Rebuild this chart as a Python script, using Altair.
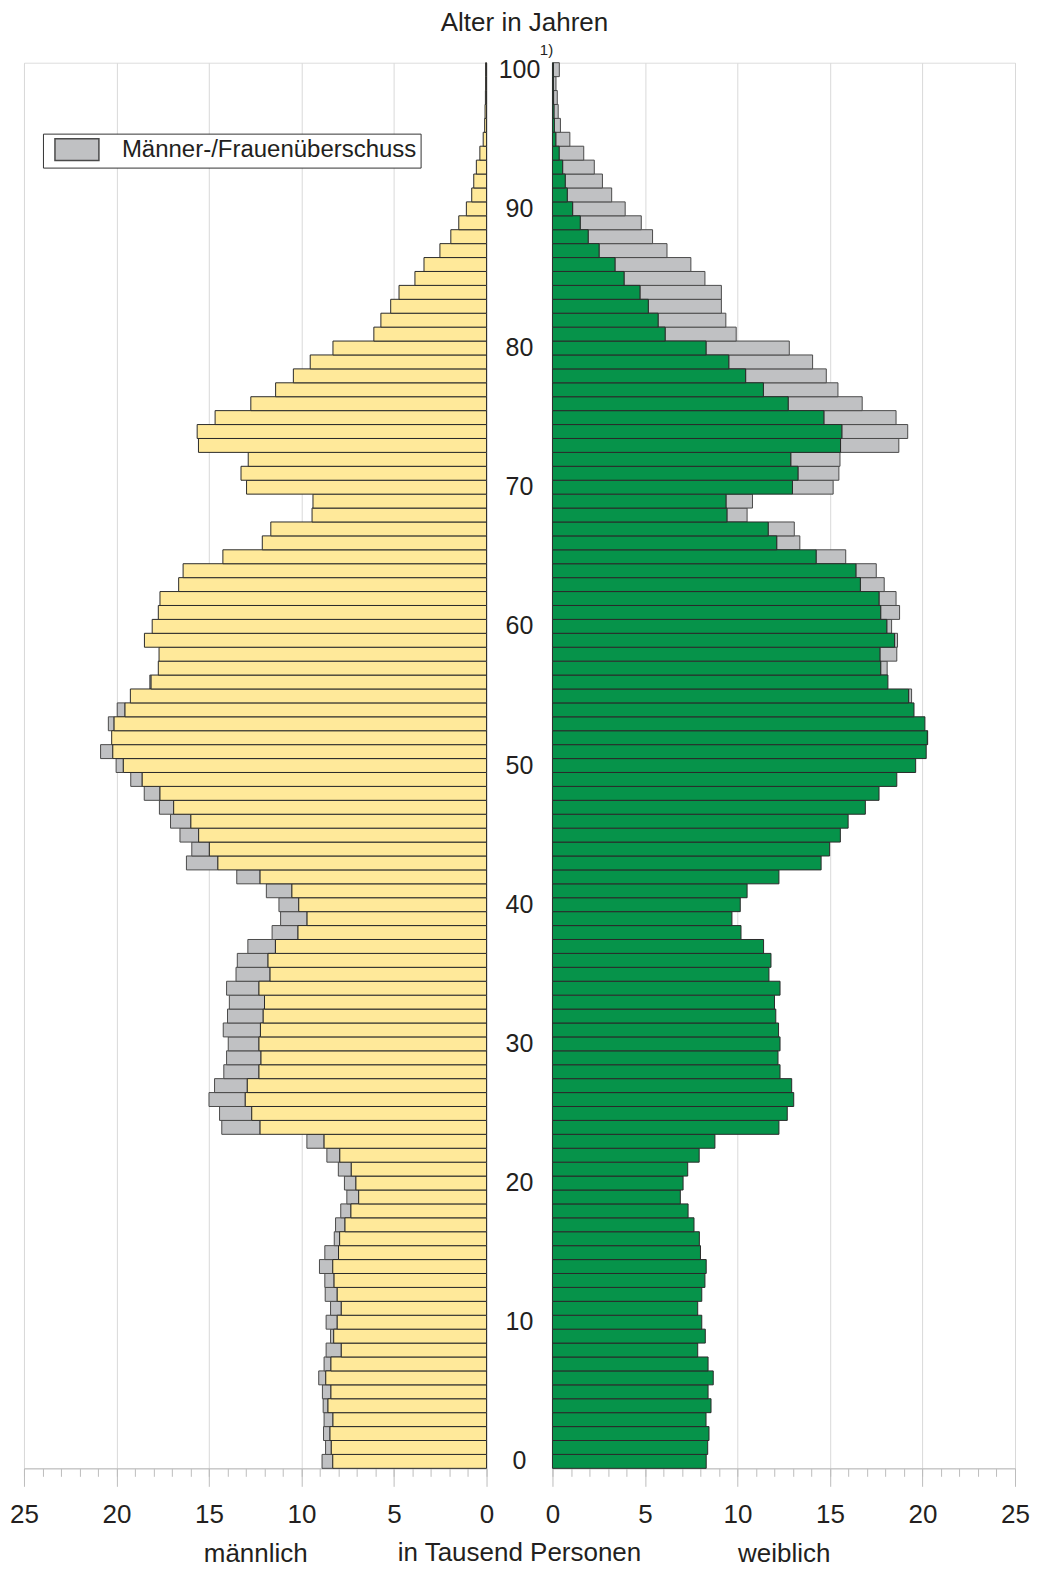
import altair as alt
import pandas as pd

# ---------------- data ----------------
ages = list(range(0, 101))

# Männer (in Tausend), Alter 0 ... 100 und älter
male = [8.89, 8.70, 8.81, 8.78, 8.83, 8.87, 9.07, 8.78, 8.67, 8.43,
        8.67, 8.43, 8.72, 8.74, 9.03, 8.74, 8.23, 8.16, 7.88, 7.55,
        7.68, 8.01, 8.63, 9.71, 14.31, 14.43, 15.00, 14.70, 14.20, 14.05,
        13.96, 14.23, 14.00, 13.90, 14.05, 13.54, 13.47, 12.90, 11.59, 11.13,
        11.22, 11.90, 13.50, 16.22, 15.93, 16.57, 17.08, 17.68, 18.50, 19.23,
        20.02, 20.86, 20.26, 20.44, 19.96, 19.25, 18.20, 17.74, 17.70, 18.49,
        18.07, 17.74, 17.65, 16.64, 16.40, 14.25, 12.12, 11.66, 9.43, 9.38,
        12.97, 13.27, 12.88, 15.57, 15.64, 14.67, 12.74, 11.40, 10.44, 9.53,
        8.30, 6.09, 5.71, 5.18, 4.73, 3.87, 3.38, 2.52, 1.93, 1.50,
        1.09, 0.80, 0.69, 0.55, 0.36, 0.18, 0.10, 0.08, 0.06, 0.05,
        0.05]

# Frauen (in Tausend), Alter 0 ... 100 und älter
female = [8.31, 8.39, 8.46, 8.30, 8.57, 8.41, 8.69, 8.41, 7.85, 8.26,
          8.07, 7.85, 8.07, 8.24, 8.31, 8.00, 7.94, 7.65, 7.33, 6.91,
          7.06, 7.31, 7.93, 8.78, 12.24, 12.69, 13.04, 12.93, 12.30, 12.19,
          12.30, 12.22, 12.07, 12.00, 12.30, 11.70, 11.81, 11.41, 10.19, 9.70,
          10.15, 10.52, 12.24, 14.52, 14.98, 15.56, 15.98, 16.91, 17.65, 18.61,
          19.63, 20.20, 20.28, 20.13, 19.54, 19.41, 18.13, 18.09, 18.61, 18.65,
          18.33, 18.76, 18.57, 17.93, 17.50, 15.85, 13.37, 13.07, 10.52, 10.81,
          15.17, 15.48, 15.54, 18.72, 19.20, 18.57, 16.74, 15.43, 14.80, 14.06,
          12.80, 9.93, 9.37, 9.13, 9.13, 8.24, 7.48, 6.19, 5.41, 4.80,
          3.93, 3.20, 2.70, 2.26, 1.69, 0.94, 0.43, 0.31, 0.26, 0.19,
          0.37]

age_labels = [0, 10, 20, 30, 40, 50, 60, 70, 80, 90, 100]
major_ticks = [0, 5, 10, 15, 20, 25]
minor_ticks = list(range(0, 26))
legend_label = "Männer-/Frauenüberschuss"
footnote = "1)"
title_text = "Alter in Jahren"

df = pd.DataFrame({"age": ages, "male": male, "female": female})
df["common"] = df[["male", "female"]].min(axis=1)
df["kat"] = legend_label

lab_df = pd.DataFrame({"age": age_labels})
sup_df = pd.DataFrame({"age": [100], "txt": [footnote]})
title_df = pd.DataFrame({"age": [100], "txt": [title_text]})

# ---------------- style ----------------
FONT = "Liberation Sans"
YELLOW = "#FFE99A"
GREEN = "#06934A"
GREY = "#C0C1C3"
BAR_STROKE = "#2a2a2a"
GREY_STROKE = "#4a4a4a"
TEXT = "#231F20"
GRID = "#d9d9d9"
AXC = "#bdbdbd"
FRAME = "#c4c4c4"

W = 463
MW = 66
H = 1407

age_domain = list(reversed(ages))


def yenc():
    return alt.Y("age:O",
                 scale=alt.Scale(domain=age_domain, paddingInner=0, paddingOuter=0),
                 axis=None)


def xscale(rev):
    return alt.Scale(domain=[0, 25], nice=False, zero=True, reverse=rev)


def major_axis(title):
    return alt.Axis(values=major_ticks, orient="bottom", tickSize=18, tickColor=AXC,
                    domainColor=AXC, grid=True, gridColor=GRID, labelFontSize=26,
                    labelFont=FONT, labelColor=TEXT, labelPadding=15, labelFlush=False,
                    title=title, titleFontSize=26, titleFont=FONT, titleFontWeight="normal",
                    titleColor=TEXT, titlePadding=13)


def minor_axis():
    return alt.Axis(values=minor_ticks, orient="bottom", tickSize=8, tickColor=AXC,
                    labels=False, domain=False, grid=False, title=None)


legend = alt.Legend(title=None, orient="none", legendX=19, legendY=71,
                    labelFontSize=24, labelFont=FONT, labelColor=TEXT, labelLimit=600,
                    symbolType="M-2,-1H2V1H-2Z", symbolSize=484,
                    symbolStrokeColor=GREY_STROKE, symbolStrokeWidth=1.5,
                    symbolOpacity=1, symbolOffset=18, labelOffset=33,
                    strokeColor="#333333", fillColor="white", padding=4)

cscale = alt.Scale(domain=[legend_label], range=[GREY])

# ---------------- left: männlich ----------------
left_grey = alt.Chart(df).transform_filter("datum.male > datum.female").mark_bar(
    stroke=GREY_STROKE, strokeWidth=1).encode(
    x=alt.X("common:Q", scale=xscale(True), axis=minor_axis()),
    x2="male:Q",
    y=yenc(),
    color=alt.Color("kat:N", scale=cscale, legend=legend),
)
left_yellow = alt.Chart(df).mark_bar(color=YELLOW, stroke=BAR_STROKE, strokeWidth=1).encode(
    x=alt.X("common:Q", scale=xscale(True), axis=major_axis("männlich")),
    y=yenc(),
)
left = alt.layer(left_grey, left_yellow).resolve_axis(x="independent").properties(
    width=W, height=H)

# ---------------- middle: ages ----------------
mid_labels = alt.Chart(lab_df).mark_text(fontSize=25, font=FONT, color=TEXT).encode(
    y=yenc(), text="age:N", x=alt.value(MW / 2))
mid_sup = alt.Chart(sup_df).mark_text(fontSize=15, font=FONT, color=TEXT, dx=27, dy=-20).encode(
    y=yenc(), text="txt:N", x=alt.value(MW / 2))
mid_title = alt.Chart(title_df).mark_text(fontSize=26, font=FONT, color=TEXT,
                                          baseline="alphabetic", dx=5, dy=-39).encode(
    y=yenc(), text="txt:N", x=alt.value(MW / 2))
middle = alt.layer(mid_labels, mid_sup, mid_title).properties(
    width=MW, height=H,
    view=alt.ViewBackground(stroke="transparent"),
    title=alt.TitleParams("in Tausend Personen", orient="bottom", fontSize=26, font=FONT,
                          fontWeight="normal", color=TEXT, offset=66),
)

# ---------------- right: weiblich ----------------
right_grey = alt.Chart(df).transform_filter("datum.female > datum.male").mark_bar(
    stroke=GREY_STROKE, strokeWidth=1).encode(
    x=alt.X("common:Q", scale=xscale(False), axis=minor_axis()),
    x2="female:Q",
    y=yenc(),
    color=alt.Color("kat:N", scale=cscale, legend=legend),
)
right_green = alt.Chart(df).mark_bar(color=GREEN, stroke=BAR_STROKE, strokeWidth=1).encode(
    x=alt.X("common:Q", scale=xscale(False), axis=major_axis("weiblich")),
    y=yenc(),
)
right = alt.layer(right_grey, right_green).resolve_axis(x="independent").properties(
    width=W, height=H)

chart = alt.hconcat(left, middle, right, spacing=0, bounds="flush").properties(
    padding={"left": 1, "top": 0, "right": 0, "bottom": 0},
).configure_view(stroke=FRAME, strokeWidth=1).configure(font=FONT)

chart.save("out.html", embed_options={"renderer": "svg", "actions": False})
